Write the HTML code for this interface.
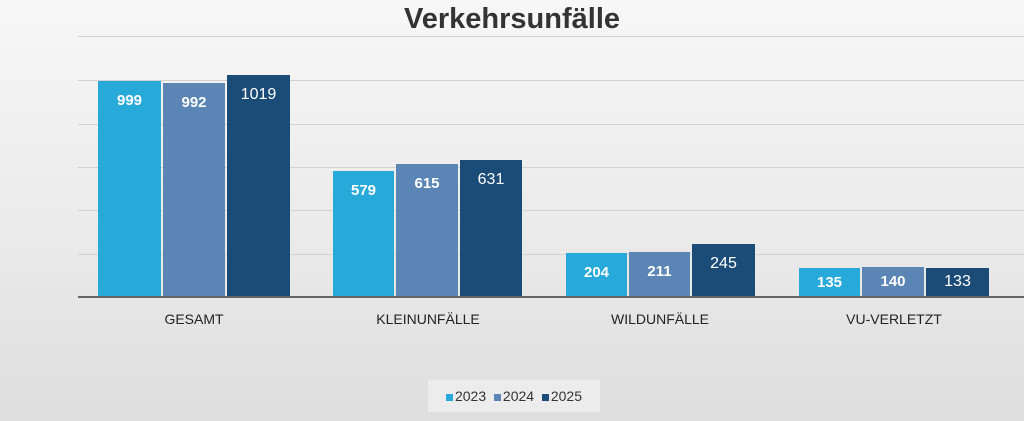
<!DOCTYPE html><html><head><style>
body{margin:0;width:1024px;height:421px;overflow:hidden;background:linear-gradient(#f7f7f7,#e9e9e9 60%,#dedede);font-family:"Liberation Sans",Arial,sans-serif;position:relative}
.g{position:absolute;left:78px;width:946px;height:1px;background:#d2d2d2}
.b{position:absolute;color:#fff;font-weight:bold;font-size:15px;text-align:center;padding-top:11px;box-sizing:border-box}
.c1{background:#27a9d9}.c2{background:#5a85b4}.c3{background:#1b4c77;font-weight:normal;font-size:16px}
.l{position:absolute;top:311px;font-size:14px;color:#222;text-align:center;width:200px}
</style></head><body>
<div class="g" style="top:36px"></div><div class="g" style="top:80px"></div><div class="g" style="top:124px"></div><div class="g" style="top:167px"></div><div class="g" style="top:210px"></div><div class="g" style="top:254px"></div>
<div style="position:absolute;top:3px;width:1024px;text-align:center;font-size:29px;font-weight:bold;color:#333">Verkehrsunfälle</div>
<div class="b c1" style="left:98px;width:63px;top:81px;height:216px">999</div>
<div class="b c2" style="left:163px;width:62px;top:83px;height:214px">992</div>
<div class="b c3" style="left:227px;width:63px;top:75px;height:222px">1019</div>
<div class="b c1" style="left:333px;width:61px;top:171px;height:126px">579</div>
<div class="b c2" style="left:396px;width:62px;top:164px;height:133px">615</div>
<div class="b c3" style="left:460px;width:62px;top:160px;height:137px">631</div>
<div class="b c1" style="left:566px;width:61px;top:253px;height:44px">204</div>
<div class="b c2" style="left:629px;width:61px;top:252px;height:45px">211</div>
<div class="b c3" style="left:692px;width:63px;top:244px;height:53px">245</div>
<div class="b c1" style="left:799px;width:61px;top:268px;height:29px;padding-top:6px">135</div>
<div class="b c2" style="left:862px;width:62px;top:267px;height:30px;padding-top:6px">140</div>
<div class="b c3" style="left:926px;width:63px;top:268px;height:29px;padding-top:5px">133</div>
<div style="position:absolute;left:78px;width:946px;top:296px;height:2px;background:#666"></div>
<div class="l" style="left:94px">GESAMT</div>
<div class="l" style="left:328px">KLEINUNFÄLLE</div>
<div class="l" style="left:560px">WILDUNFÄLLE</div>
<div class="l" style="left:794px">VU-VERLETZT</div>
<div style="position:absolute;left:428px;top:380px;width:172px;height:32px;background:#ececec;font-size:14px;color:#333;line-height:32px;text-align:center">
<span style="display:inline-block;width:7px;height:7px;background:#27a9d9;margin-right:2px"></span>2023&nbsp;
<span style="display:inline-block;width:7px;height:7px;background:#5a85b4;margin-right:2px"></span>2024&nbsp;
<span style="display:inline-block;width:7px;height:7px;background:#1b4c77;margin-right:2px"></span>2025</div>
</body></html>
